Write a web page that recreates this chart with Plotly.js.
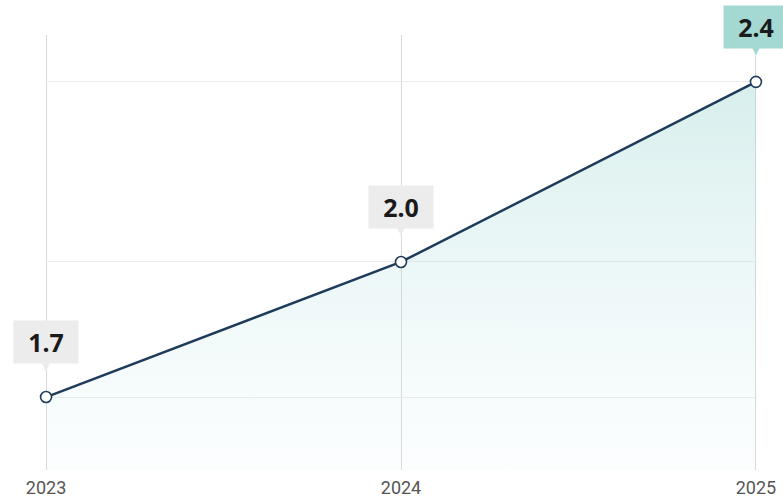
<!DOCTYPE html>
<html><head><meta charset="utf-8">
<script src="https://cdn.plot.ly/plotly-3.0.1.min.js"></script>
<style>html,body{margin:0;padding:0;background:#fff;}#chart{width:783px;height:501px;}</style>
</head><body><div id="chart"></div>
<script>
const years = [2023, 2024, 2025];
const values = [1.7, 2.0, 2.4];
const labels = ["1.7", "2.0", "2.4"];
const boxColors = ["#ececec", "#ececec", "#a3d9d2"];

const yMin = 1.538, yMax = 2.504;
const LABEL_FONT = '"Noto Sans", Roboto, sans-serif';
const TICK_FONT = 'Roboto, "Noto Sans", sans-serif';

const base = {x: years, y: years.map(() => yMin), mode: 'lines', line: {width: 0}, hoverinfo: 'skip', showlegend: false};
const main = {
  x: years, y: values, mode: 'lines+markers', fill: 'tonexty',
  fillgradient: {type: 'vertical', colorscale: [[0, 'rgba(190,228,235,0.05)'], [1, 'rgba(150,212,206,0.38)']]},
  line: {color: '#1e3c5a', width: 2.5},
  marker: {size: 11, color: '#ffffff', line: {color: '#1e3c5a', width: 1.6}},
  showlegend: false, cliponaxis: false
};

const annotations = [];
years.forEach((yr, i) => {
  annotations.push({
    x: yr, y: values[i], xref: 'x', yref: 'y', text: '<b>' + labels[i] + '</b>', showarrow: false,
    yshift: 55, width: 62, height: 40, bgcolor: boxColors[i], borderpad: 1,
    font: {family: LABEL_FONT, size: 25, color: '#1a1a1a'}, xanchor: 'center', yanchor: 'middle'
  });
  annotations.push({
    x: yr, y: values[i], xref: 'x', yref: 'y', text: '▼', showarrow: false,
    yshift: 31, font: {family: 'DejaVu Sans', size: 10, color: boxColors[i]}, xanchor: 'center', yanchor: 'middle'
  });
});

const layout = {
  width: 783, height: 501,
  margin: {l: 45, r: 26, t: 35, b: 31},
  paper_bgcolor: '#ffffff', plot_bgcolor: '#ffffff',
  xaxis: {range: [2022.997, 2025.003], tickvals: years, ticktext: years.map(String), showgrid: true, gridcolor: '#d9d9d9', gridwidth: 1,
    zeroline: false, showline: false, ticks: '', ticklabelstandoff: 5,
    tickfont: {family: TICK_FONT, size: 18, color: '#555555'}},
  yaxis: {range: [yMin, yMax], tickvals: values, showticklabels: false, showgrid: true, gridcolor: '#ececec', gridwidth: 1,
    zeroline: false, showline: false, ticks: ''},
  annotations: annotations,
  showlegend: false
};

Plotly.newPlot('chart', [base, main], layout, {displayModeBar: false, staticPlot: true});
</script></body></html>
